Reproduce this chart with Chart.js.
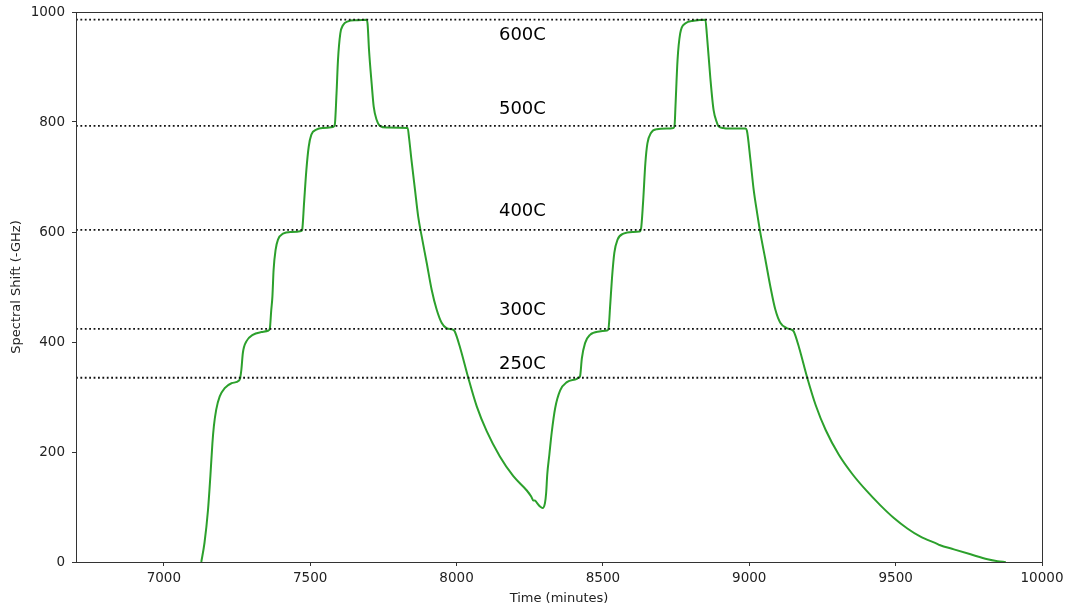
<!DOCTYPE html>
<html>
<head>
<meta charset="utf-8">
<script src="https://cdn.jsdelivr.net/npm/chart.js@4.4.1/dist/chart.umd.min.js"></script>
<style>
  html, body { margin: 0; padding: 0; background: #ffffff; }
  #wrap { width: 1070px; height: 611px; position: relative; }
</style>
</head>
<body>
<div id="wrap"><canvas id="chart" width="1070" height="611"></canvas></div>
<script>
// Heating/cooling run: spectral shift of the sensor vs. elapsed time
const timeMinutes = [
  7128, 7139, 7151, 7159, 7166, 7171, 7179, 7191, 7208, 7231, 7257,
  7261, 7265, 7270, 7282, 7304, 7333, 7358,
  7362, 7367, 7371, 7375, 7382, 7390, 7407, 7436, 7470,
  7473, 7479, 7487, 7495, 7504, 7521, 7544, 7578,
  7584, 7590, 7595, 7603, 7612, 7629, 7658, 7692,
  7696, 7701, 7710, 7717, 7727, 7738, 7761, 7833,
  7838, 7846, 7858, 7869, 7881, 7898, 7915, 7932, 7949, 7966, 7989,
  7994, 8012, 8040, 8069, 8103, 8148, 8194, 8240, 8255, 8262, 8268, 8274, 8285, 8294,
  8302, 8306, 8310, 8317, 8325, 8337, 8354, 8377, 8411,
  8416, 8422, 8428, 8439, 8456, 8488, 8514,
  8519, 8525, 8531, 8539, 8550, 8570, 8604, 8625,
  8630, 8637, 8645, 8652, 8664, 8684, 8719, 8741,
  8745, 8748, 8755, 8764, 8781, 8810, 8850,
  8855, 8867, 8878, 8890, 8895, 8912, 8924, 8987,
  8992, 9004, 9015, 9027, 9038, 9055, 9072, 9089, 9106, 9129, 9146,
  9152, 9170, 9198, 9227, 9261, 9306, 9352, 9398, 9448, 9494,
  9540, 9585, 9642, 9650, 9699, 9756, 9814, 9848, 9876
];
const spectralShift = [
  0, 35, 95, 156, 216, 247, 277, 301, 316, 325, 330,
  335, 350, 380, 401, 413, 418, 421,
  424, 458, 483, 531, 568, 586, 597, 600, 602,
  605, 652, 713, 755, 777, 786, 789, 791,
  795, 852, 913, 961, 976, 983, 985, 986,
  979, 931, 870, 828, 804, 793, 790, 789,
  770, 731, 677, 628, 592, 544, 495, 459, 435, 425, 422,
  419, 390, 335, 283, 238, 192, 156, 130, 119, 112, 112, 108, 101, 98,
  107, 125, 160, 195, 235, 280, 312, 327, 333,
  335, 338, 370, 398, 413, 419, 421,
  424, 468, 516, 562, 586, 597, 600, 601,
  605, 652, 725, 761, 780, 787, 788, 789,
  795, 830, 913, 961, 979, 984, 986,
  960, 880, 822, 798, 792, 789, 788, 788,
  784, 731, 677, 634, 598, 550, 501, 459, 435, 425, 422,
  419, 390, 335, 285, 240, 195, 160, 131, 103, 80,
  61, 46, 33, 31, 23, 14, 5, 1.5, 0
];

// Temperature set-point reference levels
const levelNames = ['250C', '300C', '400C', '500C', '600C'];
const levelShift = [335, 424, 604, 793, 986];
const levelLabelTime = [8225, 8225, 8225, 8225, 8225];
const levelLabelShift = [360, 458, 638, 823, 958];

const xTicks = [7000, 7500, 8000, 8500, 9000, 9500, 10000];
const yTicks = [0, 200, 400, 600, 800, 1000];
const xRange = [6700, 10000];
const yRange = [0, 1000];

const FONT = "'DejaVu Sans', sans-serif";
const INK = '#222222';
const FRAME = '#333333';

const curve = timeMinutes.map((t, i) => ({ x: t, y: spectralShift[i] }));

const levelSets = levelShift.map((v, i) => ({
  label: levelNames[i],
  data: [{ x: xRange[0], y: v }, { x: xRange[1], y: v }],
  borderColor: '#111111',
  borderWidth: 1.8,
  borderDash: [1.8, 2.6],
  borderCapStyle: 'butt',
  pointRadius: 0,
  fill: false,
  tension: 0
}));

const frameAndLabels = {
  id: 'frameAndLabels',
  afterDatasetsDraw(chart) {
    const { ctx, chartArea: a, scales } = chart;
    ctx.save();
    ctx.fillStyle = '#000000';
    ctx.font = '18px ' + FONT;
    ctx.textAlign = 'center';
    ctx.textBaseline = 'middle';
    levelNames.forEach((name, i) => {
      ctx.fillText(name,
        scales.x.getPixelForValue(levelLabelTime[i]),
        scales.y.getPixelForValue(levelLabelShift[i]));
    });
    ctx.strokeStyle = FRAME;
    ctx.lineWidth = 1;
    ctx.strokeRect(Math.round(a.left) + 0.5, Math.round(a.top) + 0.5,
      Math.round(a.right - a.left), Math.round(a.bottom - a.top));
    ctx.restore();
  }
};

new Chart(document.getElementById('chart'), {
  type: 'line',
  data: {
    datasets: [
      ...levelSets,
      {
        label: 'Spectral shift',
        data: curve,
        borderColor: '#2ca02c',
        borderWidth: 2,
        pointRadius: 0,
        fill: false,
        cubicInterpolationMode: 'monotone'
      }
    ]
  },
  options: {
    responsive: false,
    devicePixelRatio: 1,
    animation: false,
    events: [],
    layout: { padding: { left: 0, right: 28, top: 12, bottom: 0 } },
    plugins: { legend: { display: false }, tooltip: { enabled: false } },
    scales: {
      x: {
        type: 'linear',
        min: xRange[0],
        max: xRange[1],
        afterBuildTicks: s => { s.ticks = xTicks.map(v => ({ value: v })); },
        afterFit: s => { s.height = 49; s.paddingLeft = 0; s.paddingRight = 0; },
        grid: { display: true, drawOnChartArea: false, drawTicks: true, tickLength: 4, tickColor: FRAME, tickWidth: 1 },
        border: { display: false },
        ticks: { font: { family: FONT, size: 13.5 }, color: INK, padding: 4, maxRotation: 0, autoSkip: false, callback: v => String(v) },
        title: { display: true, text: 'Time (minutes)', font: { family: FONT, size: 13 }, color: INK, padding: { top: 0, bottom: 5 } }
      },
      y: {
        type: 'linear',
        min: yRange[0],
        max: yRange[1],
        afterBuildTicks: s => { s.ticks = yTicks.map(v => ({ value: v })); },
        afterFit: s => { s.width = 76; s.paddingTop = 0; s.paddingBottom = 0; },
        grid: { display: true, drawOnChartArea: false, drawTicks: true, tickLength: 4, tickColor: FRAME, tickWidth: 1 },
        border: { display: false },
        ticks: { font: { family: FONT, size: 13.5 }, color: INK, padding: 7, autoSkip: false, callback: v => String(v) },
        title: { display: true, text: 'Spectral Shift (-GHz)', font: { family: FONT, size: 13 }, color: INK, padding: { top: 9, bottom: 0 } }
      }
    }
  },
  plugins: [frameAndLabels]
});
</script>
</body>
</html>
